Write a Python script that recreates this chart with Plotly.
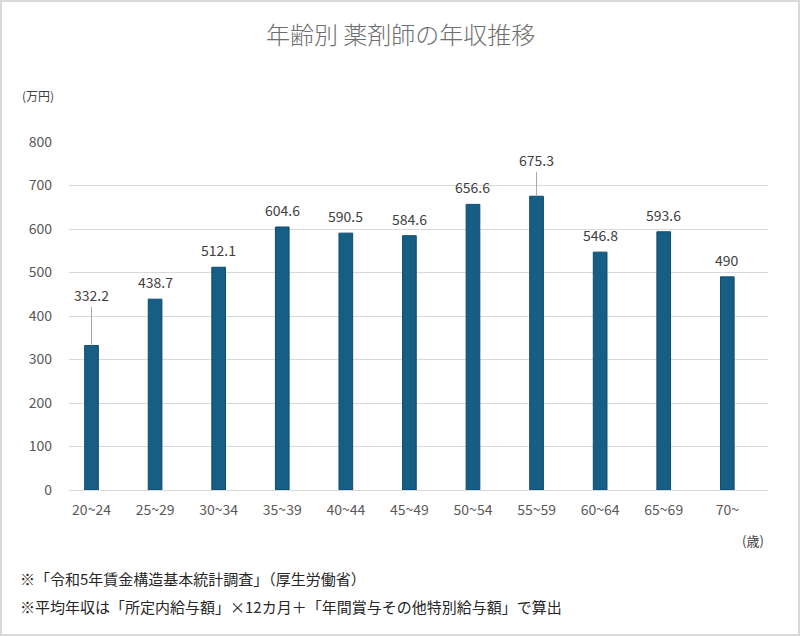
import plotly.graph_objects as go

categories = ["20~24", "25~29", "30~34", "35~39", "40~44", "45~49",
              "50~54", "55~59", "60~64", "65~69", "70~"]
salary = [332.2, 438.7, 512.1, 604.6, 590.5, 584.6, 656.6, 675.3, 546.8, 593.6, 490]
label_text = ["332.2", "438.7", "512.1", "604.6", "590.5", "584.6",
              "656.6", "675.3", "546.8", "593.6", "490"]
# leader-line labels: pixel offset of label above bar top (0 = plain label)
leader_offset = [-50, 0, 0, 0, 0, 0, 0, -36, 0, 0, 0]

W, H = 800, 636
L, R, T, B = 69, 32, 142, 146
pw, ph = W - L - R, H - T - B

fig = go.Figure()
fig.add_trace(go.Bar(
    x=categories, y=salary,
    marker=dict(color="#165E83", line=dict(color="#0F4B6B", width=1)),
    width=0.215, hoverinfo="skip",
))

FONT = "Noto Sans CJK JP"
NUMFONT = "Noto Sans CJK JP"
ann = []
for c, v, t, off in zip(categories, salary, label_text, leader_offset):
    if off == 0:
        ann.append(dict(x=c, y=v, xref="x", yref="y", text=t, showarrow=False,
                        yanchor="bottom", yshift=5,
                        font=dict(family=NUMFONT, size=14, color="#404040")))
    else:
        ann.append(dict(x=c, y=v, xref="x", yref="y", text=t, showarrow=True,
                        ax=0, ay=off, arrowhead=0, arrowwidth=1, arrowcolor="#A6A6A6",
                        standoff=0, startstandoff=0,
                        font=dict(family=NUMFONT, size=14, color="#404040")))

def px(xp):
    return (xp - L) / pw

def py(yp):
    return 1 - (yp - T) / ph

ann += [
    dict(text="年齢別 薬剤師の年収推移", x=0.5, y=py(33), xref="paper", yref="paper",
         xanchor="center", yanchor="middle", showarrow=False,
         xshift=400 - (L + pw / 2),
         font=dict(family=FONT, size=24, color="#6E6E6E", weight=300)),
    dict(text="(万円)", x=px(20), y=py(95), xref="paper", yref="paper",
         xanchor="left", yanchor="middle", showarrow=False,
         font=dict(family=FONT, size=12, color="#404040")),
    dict(text="(歳)", x=px(766), y=py(540), xref="paper", yref="paper",
         xanchor="right", yanchor="middle", showarrow=False,
         font=dict(family=FONT, size=13, color="#404040")),
    dict(text="※「令和5年賃金構造基本統計調査」（厚生労働省）", x=px(18), y=py(578),
         xref="paper", yref="paper", xanchor="left", yanchor="middle", showarrow=False,
         font=dict(family=FONT, size=15, color="#262626")),
    dict(text="※平均年収は「所定内給与額」×12カ月＋「年間賞与その他特別給与額」で算出",
         x=px(18), y=py(606), xref="paper", yref="paper", xanchor="left",
         yanchor="middle", showarrow=False,
         font=dict(family=FONT, size=15, color="#262626")),
]

fig.update_layout(
    width=W, height=H,
    margin=dict(l=L, r=R, t=T, b=B),
    paper_bgcolor="white", plot_bgcolor="white",
    showlegend=False,
    annotations=ann,
    shapes=[dict(type="rect", xref="paper", yref="paper",
                 x0=px(1), x1=px(W - 1), y0=py(H - 1), y1=py(1),
                 line=dict(color="#D9D9D9", width=2), fillcolor="rgba(0,0,0,0)",
                 layer="below")],
    xaxis=dict(type="category", range=[-0.354, 10.64], showgrid=False, showline=True,
               linecolor="#D9D9D9", linewidth=1, ticks="",
               tickfont=dict(family=NUMFONT, size=14, color="#595959"),
               ticklabelstandoff=7),
    yaxis=dict(range=[0, 800], dtick=100, showgrid=True, gridcolor="#D9D9D9",
               gridwidth=1, zeroline=False, showline=False, ticks="",
               tickfont=dict(family=NUMFONT, size=14, color="#595959"),
               ticklabelstandoff=16),
)

fig.write_html("out.html")
